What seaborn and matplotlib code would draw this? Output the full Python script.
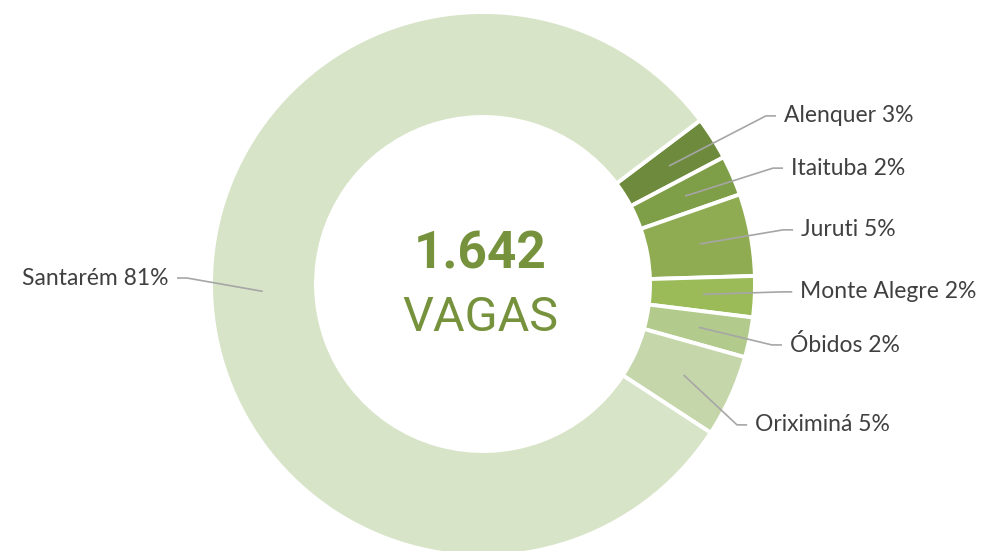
import numpy as np
import matplotlib
matplotlib.use("Agg")
import matplotlib.pyplot as plt
import seaborn as sns

# Data: vagas por município (total 1.642)
municipios = ['Alenquer', 'Itaituba', 'Juruti', 'Monte Alegre', 'Óbidos', 'Oriximiná', 'Santarém']
vagas = [42, 39, 80, 40, 39, 80, 1322]
cores = ['#6E8B3D', '#7F9E48', '#8FAC52', '#9BBB59', '#B2CA8C', '#C5D7AA', '#D8E4C8']

# Label elbow positions (layout only), in axis units
cotovelos = [(1.040, 0.618), (1.066, 0.426), (1.103, 0.199), (1.100, -0.029),
             (1.062, -0.224), (0.934, -0.518), (-1.088, 0.022)]

sns.set_theme(style="white")
plt.rcParams['font.family'] = ['Lato', 'DejaVu Sans']

total = sum(vagas)

fig = plt.figure(figsize=(9.9, 5.51), dpi=100)
ax = fig.add_axes([0, 0, 1, 1])

wedges, _ = ax.pie(vagas, colors=cores, startangle=37, counterclock=False,
                   radius=1.0, wedgeprops=dict(width=0.386, edgecolor='white', linewidth=2.8))

cinza = '#A6A6A6'
for w, nome, v, (ex, ey) in zip(wedges, municipios, vagas, cotovelos):
    ang = np.deg2rad((w.theta1 + w.theta2) / 2)
    ax_, ay_ = 0.81 * np.cos(ang), 0.81 * np.sin(ang)
    lado = 1 if ex > 0 else -1
    hx = ex + lado * 0.037
    ax.plot([ax_, ex, hx], [ay_, ey, ey], color=cinza, lw=1.2, solid_capstyle='butt')
    texto = f"{nome} {round(v / total * 100)}%"
    ax.text(hx + lado * 0.03, ey, texto, ha='left' if lado > 0 else 'right',
            va='center', fontsize=16.5, color='#404040')

verde = '#76923C'
ax.text(-0.01, 0.110, f"{total:,}".replace(',', '.'), ha='center', va='center',
        fontsize=37, fontweight='bold', color=verde, family=['Roboto', 'DejaVu Sans'])
ax.text(-0.01, -0.125, "VAGAS", ha='center', va='center',
        fontsize=35, fontweight='normal', color=verde, family=['Roboto', 'DejaVu Sans'])

ax.set_xlim(-483 / 272, (990 - 483) / 272)
ax.set_ylim((284 - 551) / 272, 284 / 272)
ax.axis('off')

fig.savefig('out.png', dpi=100)
